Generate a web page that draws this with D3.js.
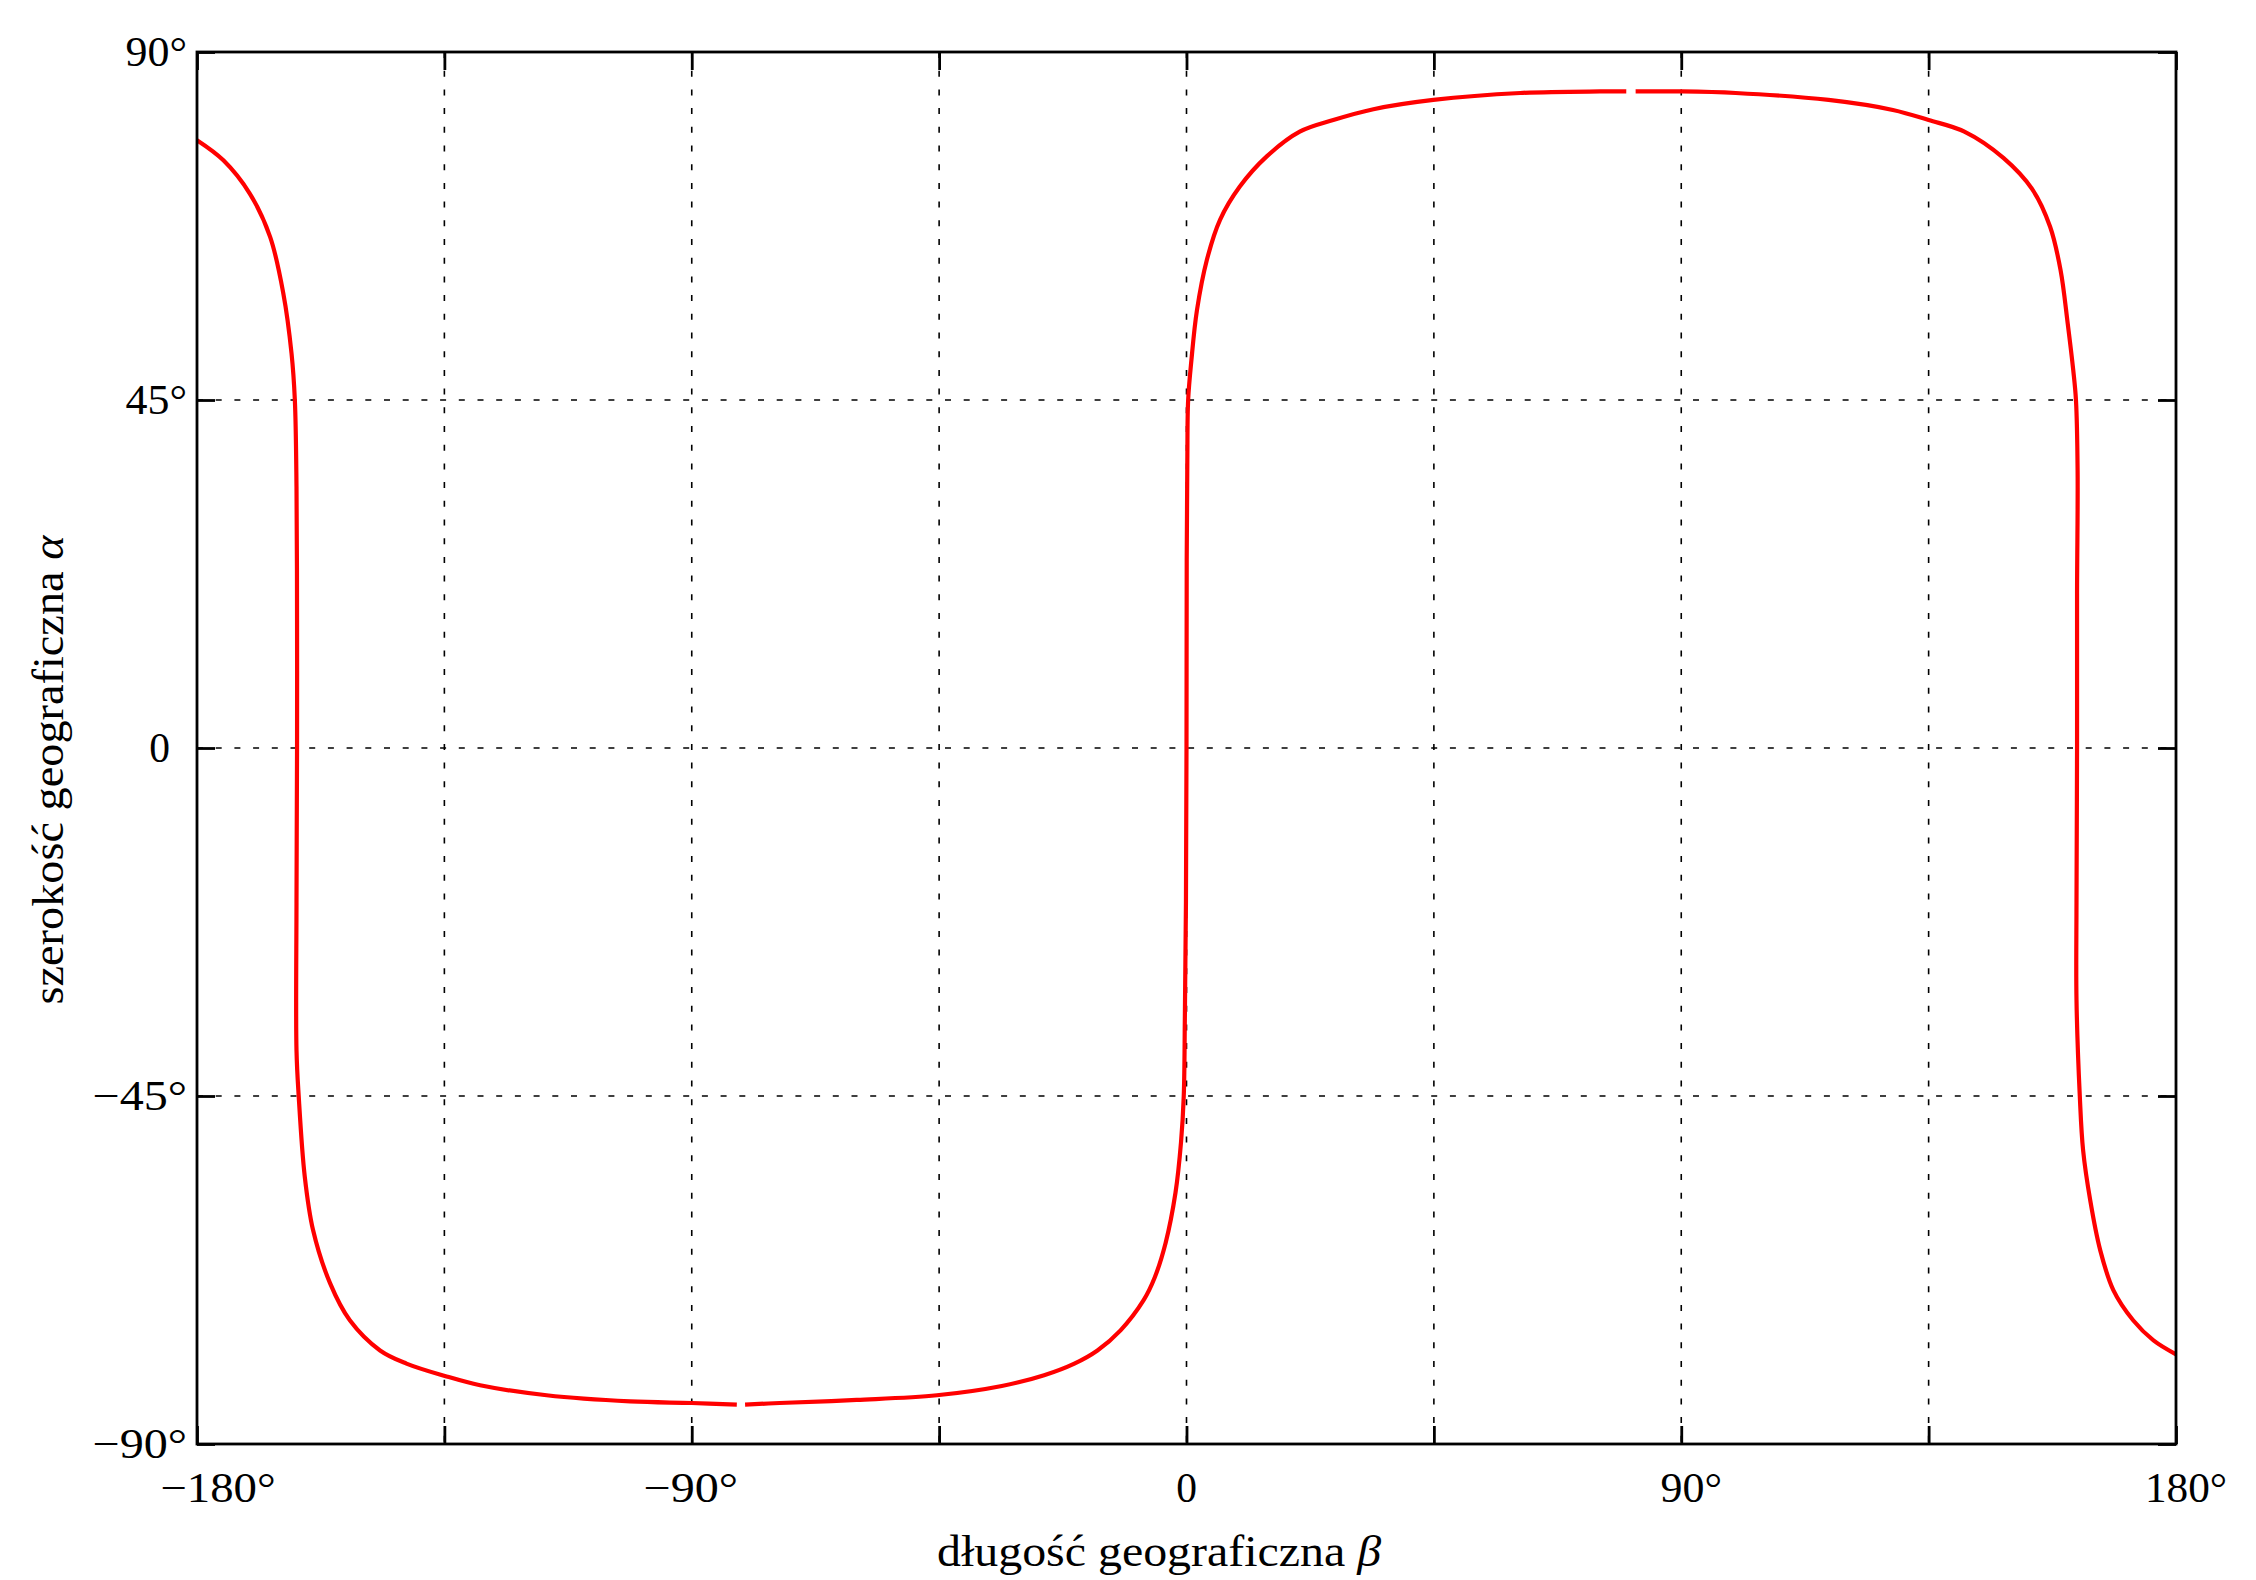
<!DOCTYPE html>
<html>
<head>
<meta charset="utf-8">
<script src="https://cdn.jsdelivr.net/npm/d3@7"></script>
<style>
  html, body { margin: 0; padding: 0; background: #fff; }
  svg { display: block; }
  text { font-family: "Liberation Serif", "DejaVu Serif", serif; fill: #000; }
</style>
</head>
<body>
<script>
// ---- data (longitude beta, latitude alpha in degrees) ----
const segA_beta  = [-180, -175.2, -170.4, -166.7, -164.3, -162.8, -162.2, -161.9, -161.8, -161.8, -161.9, -161.9, -161.5, -160.4, -158.9, -155.8, -152.2, -146.7, -141.9, -134.9, -128.5, -116.4, -101.2, -90, -81.8];
const segA_alpha = [78.6, 76.0, 71.7, 66.1, 58.8, 51.0, 45, 33.8, 16.5, 0, -20, -39.1, -45, -55.4, -62.3, -69.2, -74.0, -77.9, -79.6, -81.2, -82.4, -83.7, -84.5, -84.7, -84.9];

const segB_beta  = [-80.3, -74, -60, -45.4, -33.6, -25.9, -20.4, -16.2, -12.0, -7.8, -5.8, -3.8, -2.0, -1.0, -0.5, -0.3, -0.1, 0, 0.04, 0.15, 0.3, 0.9, 1.9, 3.7, 6.1, 9.7, 14.6, 20.6, 26.7, 34.0, 44.9, 60.7, 75.2, 80.0];
const segB_alpha = [-84.9, -84.7, -84.3, -83.7, -82.5, -81.1, -79.6, -77.9, -75.3, -71.4, -68.5, -64, -57.5, -51, -45, -35, -20, 0, 24.3, 37.2, 45, 50.2, 56.6, 63.1, 68.3, 72.6, 76.5, 79.7, 81.2, 82.6, 83.8, 84.7, 84.9, 84.9];

const segC_beta  = [81.7, 90.1, 99.9, 116.8, 128.5, 135, 141.5, 148.6, 153.9, 157.1, 159.0, 160.3, 161.3, 161.8, 162.1, 162.0, 162.0, 161.9, 161.9, 162.5, 163.1, 164.4, 166.2, 168.6, 172.2, 175.9, 180];
const segC_alpha = [84.9, 84.9, 84.7, 83.8, 82.5, 81.2, 79.7, 76.3, 72.2, 67.4, 61.8, 54.9, 48.9, 45, 35.9, 20, 0, -20, -32.6, -45, -52.0, -58.5, -64.9, -70.1, -74.0, -76.6, -78.4];

const xTicks = [-180, -135, -90, -45, 0, 45, 90, 135, 180];
const xTickLabels = ["−180°", "", "−90°", "", "0", "", "90°", "", "180°"];
const yTicks = [-90, -45, 0, 45, 90];
const yTickLabels = ["−90°", "−45°", "0", "45°", "90°"];

const xLabel = "długość geograficzna ";
const xLabelSym = "β";
const yLabel = "szerokość geograficzna ";
const yLabelSym = "α";

// ---- layout ----
const W = 2256, H = 1580;
const L = 197, R = 2176, T = 52, B = 1444;

const svg = d3.select("body").append("svg").attr("width", W).attr("height", H);

const x = d3.scaleLinear().domain([-180, 180]).range([L, R]);
const y = d3.scaleLinear().domain([-90, 90]).range([B, T]);

// grid
const grid = svg.append("g").attr("stroke", "#000").attr("stroke-width", 1.6)
  .attr("stroke-dasharray", "6,12.7").attr("fill", "none");
xTicks.filter(d => d > -180 && d < 180).forEach(d => {
  grid.append("line").attr("x1", x(d)).attr("x2", x(d)).attr("y1", T).attr("y2", B);
});
yTicks.filter(d => d > -90 && d < 90).forEach(d => {
  grid.append("line").attr("x1", L).attr("x2", R).attr("y1", y(d)).attr("y2", y(d));
});

// curve
const line = d3.line().x(d => x(d[0])).y(d => y(d[1])).curve(d3.curveCatmullRom.alpha(0.5));
[[segA_beta, segA_alpha], [segB_beta, segB_alpha], [segC_beta, segC_alpha]].forEach(([bs, as]) => {
  const pts = bs.map((b, i) => [b, as[i]]);
  svg.append("path").datum(pts).attr("d", line)
    .attr("fill", "none").attr("stroke", "#ff0000").attr("stroke-width", 4.2)
    .attr("stroke-linejoin", "round");
});

// axes with inward ticks on all four sides
const tickLen = 18;
const axB = svg.append("g").attr("transform", `translate(0,${B})`)
  .call(d3.axisBottom(x).tickValues(xTicks).tickSize(-tickLen).tickFormat(""));
const axT = svg.append("g").attr("transform", `translate(0,${T})`)
  .call(d3.axisTop(x).tickValues(xTicks).tickSize(-tickLen).tickFormat(""));
const axL = svg.append("g").attr("transform", `translate(${L},0)`)
  .call(d3.axisLeft(y).tickValues(yTicks).tickSize(-tickLen).tickFormat(""));
const axR = svg.append("g").attr("transform", `translate(${R},0)`)
  .call(d3.axisRight(y).tickValues(yTicks).tickSize(-tickLen).tickFormat(""));
[axB, axT, axL, axR].forEach(a => {
  a.selectAll(".domain").remove();
  a.selectAll(".tick line").attr("stroke", "#000").attr("stroke-width", 2.8);
});

// frame
svg.append("rect").attr("x", L).attr("y", T).attr("width", R - L).attr("height", B - T)
  .attr("fill", "none").attr("stroke", "#000").attr("stroke-width", 2.8);

// tick labels (widths stretched to match the Computer Modern look)
const fs = 41.5;
const degW = 17;
function labelWidth(lab) {
  let w = 0;
  for (const ch of lab) {
    if (ch === "−") w += 33;
    else if (ch === "°") w += 20;
    else w += 20.75;
  }
  return w;
}
xTicks.forEach((d, i) => {
  const lab = xTickLabels[i];
  if (!lab) return;
  const hasDeg = lab.indexOf("°") >= 0;
  let dx = hasDeg ? 10 : 0;
  if (lab === "−180°") dx = 21;
  if (lab === "−90°") dx = -1;
  svg.append("text").attr("x", x(d) + dx).attr("y", B + 58)
    .attr("text-anchor", "middle").attr("font-size", fs)
    .attr("textLength", labelWidth(lab)).attr("lengthAdjust", "spacingAndGlyphs").text(lab);
});
yTicks.forEach((d, i) => {
  const lab = yTickLabels[i];
  const hasDeg = lab.indexOf("°") >= 0;
  svg.append("text").attr("x", L - 10 - (hasDeg ? 0 : degW)).attr("y", y(d) + 14)
    .attr("text-anchor", "end").attr("font-size", fs)
    .attr("textLength", labelWidth(lab)).attr("lengthAdjust", "spacingAndGlyphs").text(lab);
});

// axis labels
const xl = svg.append("text").attr("x", 1159).attr("y", 1566)
  .attr("text-anchor", "middle").attr("font-size", 45)
  .attr("textLength", 444).attr("lengthAdjust", "spacingAndGlyphs");
xl.append("tspan").text(xLabel);
xl.append("tspan").attr("font-style", "italic").text(xLabelSym);

const yl = svg.append("text")
  .attr("transform", `translate(63,770) rotate(-90)`)
  .attr("text-anchor", "middle").attr("font-size", 45)
  .attr("textLength", 469).attr("lengthAdjust", "spacingAndGlyphs");
yl.append("tspan").text(yLabel);
yl.append("tspan").attr("font-style", "italic").text(yLabelSym);
</script>
</body>
</html>
